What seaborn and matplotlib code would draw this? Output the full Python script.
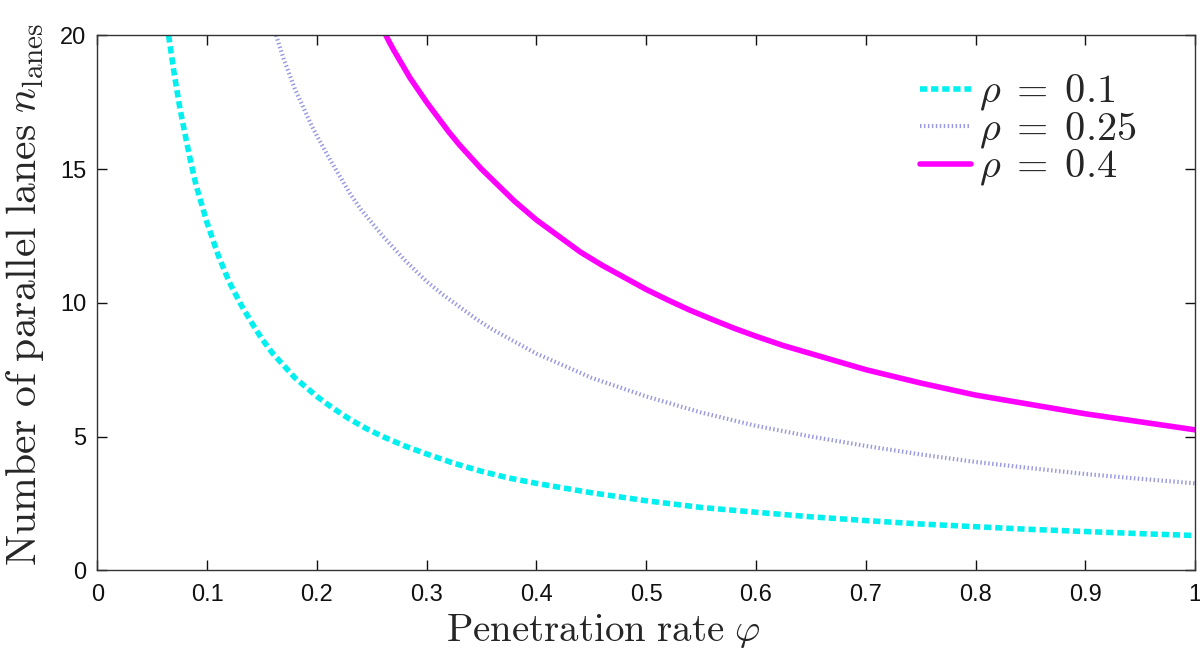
import numpy as np
import pandas as pd
import seaborn as sns
from matplotlib import pyplot as plt

# values
phi_01 = [0.065, 0.0675, 0.07, 0.075, 0.08, 0.085, 0.09, 0.095, 0.1, 0.11, 0.12, 0.13,
          0.14, 0.15, 0.16, 0.17, 0.18, 0.19, 0.2, 0.215, 0.23, 0.245, 0.26, 0.28, 0.3,
          0.325, 0.35, 0.375, 0.4, 0.45, 0.5, 0.55, 0.6, 0.65, 0.7, 0.75, 0.8, 0.85,
          0.9, 0.95, 1.0]
n_01 = [20, 19.3, 18.6, 17.35, 16.3, 15.3, 14.4, 13.7, 13.0, 11.8, 10.8, 10.0,
        9.3, 8.65, 8.1, 7.65, 7.2, 6.85, 6.5, 6.05, 5.65, 5.3, 5.0, 4.65, 4.35,
        4.0, 3.7, 3.45, 3.25, 2.9, 2.6, 2.35, 2.17, 2.0, 1.86, 1.73, 1.63, 1.53,
        1.45, 1.37, 1.3]

phi_025 = [0.163, 0.166, 0.17, 0.175, 0.18, 0.185, 0.19, 0.195, 0.2, 0.21, 0.22, 0.23,
           0.24, 0.25, 0.26, 0.27, 0.28, 0.29, 0.3, 0.315, 0.33, 0.345, 0.36, 0.38,
           0.4, 0.425, 0.45, 0.475, 0.5, 0.55, 0.6, 0.65, 0.7, 0.75, 0.8, 0.85, 0.9,
           0.95, 1.0]
n_025 = [20, 19.6, 19.1, 18.55, 18.0, 17.55, 17.1, 16.65, 16.25, 15.5, 14.8, 14.1,
         13.5, 13.0, 12.5, 12.05, 11.6, 11.2, 10.8, 10.3, 9.85, 9.4, 9.0, 8.55,
         8.1, 7.65, 7.2, 6.85, 6.5, 5.9, 5.4, 5.0, 4.65, 4.33, 4.05, 3.82, 3.6,
         3.42, 3.25]

phi_04 = [0.263, 0.266, 0.27, 0.275, 0.28, 0.285, 0.29, 0.295, 0.3, 0.31, 0.32, 0.33,
          0.34, 0.35, 0.36, 0.37, 0.38, 0.39, 0.4, 0.42, 0.44, 0.46, 0.48, 0.5, 0.52,
          0.54, 0.56, 0.58, 0.6, 0.625, 0.65, 0.675, 0.7, 0.75, 0.8, 0.85, 0.9,
          0.95, 1.0]
n_04 = [20, 19.75, 19.45, 19.1, 18.75, 18.4, 18.1, 17.8, 17.5, 16.95, 16.4, 15.9,
        15.45, 15.0, 14.6, 14.2, 13.8, 13.45, 13.1, 12.5, 11.9, 11.4, 10.95, 10.5, 10.1,
        9.72, 9.38, 9.05, 8.75, 8.4, 8.1, 7.8, 7.5, 7.0, 6.55, 6.2, 5.85,
        5.55, 5.25]

labels = [r'$\rho\;=\;0.1$', r'$\rho\;=\;0.25$', r'$\rho\;=\;0.4$']
xticks = [0, 0.1, 0.2, 0.3, 0.4, 0.5, 0.6, 0.7, 0.8, 0.9, 1]
xticklabels = ['0', '0.1', '0.2', '0.3', '0.4', '0.5', '0.6', '0.7', '0.8', '0.9', '1']
yticks = [0, 5, 10, 15, 20]

sns.set_style('ticks')
plt.rcParams['font.family'] = ['Liberation Sans', 'DejaVu Sans']
plt.rcParams['mathtext.fontset'] = 'cm'
plt.rcParams['xtick.direction'] = 'in'
plt.rcParams['ytick.direction'] = 'in'
plt.rcParams['xtick.top'] = True
plt.rcParams['ytick.right'] = True

df1 = pd.DataFrame({'phi': phi_01, 'n': n_01})
df2 = pd.DataFrame({'phi': phi_025, 'n': n_025})
df3 = pd.DataFrame({'phi': phi_04, 'n': n_04})

fig = plt.figure(figsize=(12, 6.54), dpi=100)
ax = fig.add_axes([0.081, 0.128, 0.915, 0.818])

sns.lineplot(data=df1, x='phi', y='n', color='#00f0f0', linewidth=4,
             linestyle=(0, (1.3, 0.7)), label=labels[0], ax=ax)
sns.lineplot(data=df2, x='phi', y='n', color='#9a9ae0', linewidth=3,
             linestyle=(0, (0.35, 0.6)), label=labels[1], ax=ax)
sns.lineplot(data=df3, x='phi', y='n', color='#ff00ff', linewidth=4,
             label=labels[2], ax=ax)

ax.set_xlim(0, 1)
ax.set_ylim(0, 20)
ax.set_xticks(xticks)
ax.set_xticklabels(xticklabels)
ax.set_yticks(yticks)
ax.tick_params(labelsize=17, length=7, width=1, colors='#111111')
ax.tick_params(axis='x', pad=10)
ax.tick_params(axis='y', pad=8)
for s in ax.spines.values():
    s.set_linewidth(1)
    s.set_color('#333333')

ax.set_xlabel(r'$\mathrm{Penetration\ rate}\ \varphi$', fontsize=28)
ax.set_ylabel(r'$\mathrm{Number\ of\ parallel\ lanes}\ n_{\mathrm{lanes}}$', fontsize=30)
ax.xaxis.set_label_coords(0.461, -0.078)
ax.yaxis.set_label_coords(-0.047, 0.515)

ax.legend(loc='upper left', bbox_to_anchor=(0.735, 0.96), frameon=False, fontsize=29,
          handlelength=1.25, handletextpad=0.2, labelspacing=-0.08, borderaxespad=0)

plt.savefig('out.png', dpi=100)
